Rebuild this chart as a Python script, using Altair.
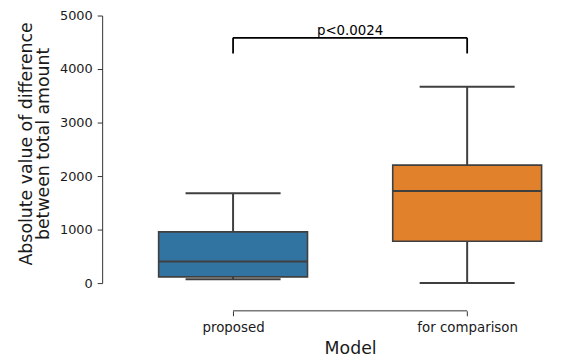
import altair as alt
import pandas as pd

# ---- data ----
models = ["proposed", "for comparison"]
positions = [0, 1]
whisker_low = [74, 0]
q1 = [117, 783]
median = [402, 1722]
q3 = [957, 2204]
whisker_high = [1680, 3667]
colors = ["#3274a1", "#e1812c"]

outlier_model = ["for comparison"]
outlier_pos = [1]
outlier_value = [5300]

bracket_left = [0]
bracket_right = [1]
bracket_top = [4583]
bracket_bottom = [4291]
bracket_label = ["p<0.0024"]

y_ticks = [0, 1000, 2000, 3000, 4000, 5000]

# ---- styling ----
BOX_HALF = 0.318
CAP_HALF = 0.203
EDGE = "#3f3f3f"
X_DOMAIN = [-0.5, 1.35]
W, H = 437, 270

df = pd.DataFrame({
    "model": models, "pos": positions, "wlo": whisker_low, "q1": q1,
    "median": median, "q3": q3, "whi": whisker_high,
})
df["x_lo"] = df["pos"] - BOX_HALF
df["x_hi"] = df["pos"] + BOX_HALF
df["cap_lo"] = df["pos"] - CAP_HALF
df["cap_hi"] = df["pos"] + CAP_HALF

out_df = pd.DataFrame({"model": outlier_model, "pos": outlier_pos, "value": outlier_value})
br_df = pd.DataFrame({"xl": bracket_left, "xr": bracket_right, "yt": bracket_top,
                      "yb": bracket_bottom, "label": bracket_label})
br_df["xm"] = (br_df["xl"] + br_df["xr"]) / 2
axis_df = pd.DataFrame({"a": [positions[0]], "b": [positions[-1]]})

label_expr = "[" + ",".join("'" + m + "'" for m in models) + "][datum.value]"

x_scale = alt.Scale(domain=X_DOMAIN, nice=False, zero=False)
y_scale = alt.Scale(domain=[0, 5000], nice=False, zero=False)

# title centred between the two categories (as in the reference)
mid = (positions[0] + positions[-1]) / 2
title_x = W * (mid - X_DOMAIN[0]) / (X_DOMAIN[1] - X_DOMAIN[0])

X_OFF = 28
x_axis = alt.Axis(
    title="Model", values=positions, labelExpr=label_expr, domain=False,
    offset=X_OFF, tickSize=5, grid=False, labelFontSize=13.5, titleFontSize=17.5,
    labelPadding=5, titlePadding=6, titleFontWeight="normal", titleX=title_x,
)
y_axis = alt.Axis(
    title=["Absolute value of difference", "between total amount"],
    values=y_ticks, format="d", offset=14, tickSize=5, grid=False,
    labelFontSize=13, titleFontSize=17.5, titleLineHeight=17, labelPadding=5,
    titlePadding=7, titleFontWeight="normal", titleY=129,
)

def X(field):
    return alt.X(field, type="quantitative", scale=x_scale, axis=x_axis)

def Y(field):
    return alt.Y(field, type="quantitative", scale=y_scale, axis=y_axis)

base = alt.Chart(df)

whisk_lo = base.mark_rule(color=EDGE, strokeWidth=2).encode(x=X("pos"), y=Y("wlo"), y2="q1")
whisk_hi = base.mark_rule(color=EDGE, strokeWidth=2).encode(x=X("pos"), y=Y("q3"), y2="whi")
cap_lo = base.mark_rule(color=EDGE, strokeWidth=2).encode(x=X("cap_lo"), x2="cap_hi", y=Y("wlo"))
cap_hi = base.mark_rule(color=EDGE, strokeWidth=2).encode(x=X("cap_lo"), x2="cap_hi", y=Y("whi"))
boxes = base.mark_rect(stroke=EDGE, strokeWidth=1.6).encode(
    x=X("x_lo"), x2="x_hi", y=Y("q1"), y2="q3",
    color=alt.Color("model:N", scale=alt.Scale(domain=models, range=colors), legend=None),
)
med = base.mark_rule(color=EDGE, strokeWidth=2).encode(x=X("x_lo"), x2="x_hi", y=Y("median"))

outl = alt.Chart(out_df).mark_point(shape="diamond", filled=True, color=EDGE, size=40, opacity=1).encode(
    x=X("pos"), y=Y("value"))

x_line = alt.Chart(axis_df).mark_rule(color="#333333", strokeWidth=1).encode(
    x=X("a"), x2="b", y=alt.value(H + X_OFF))

br = alt.Chart(br_df)
br_h = br.mark_rule(color="black", strokeWidth=1.8).encode(x=X("xl"), x2="xr", y=Y("yt"))
br_l = br.mark_rule(color="black", strokeWidth=1.8).encode(x=X("xl"), y=Y("yb"), y2="yt")
br_r = br.mark_rule(color="black", strokeWidth=1.8).encode(x=X("xr"), y=Y("yb"), y2="yt")
br_t = br.mark_text(fontSize=13.5, baseline="alphabetic", dy=-2.5, color="black").encode(
    x=X("xm"), y=Y("yt"), text="label:N")

chart = alt.layer(
    whisk_lo, whisk_hi, cap_lo, cap_hi, boxes, med, outl, x_line, br_h, br_l, br_r, br_t
).properties(
    width=W, height=H,
    autosize=alt.AutoSizeParams(type="none"),
    padding={"left": 109, "top": 6, "right": 10, "bottom": 75},
).configure(
    font="DejaVu Sans"
).configure_view(
    stroke=None, strokeWidth=0
).configure_axis(
    domainColor="#333333", tickColor="#333333", labelColor="#1a1a1a", titleColor="#1a1a1a",
    domainWidth=1, tickWidth=1,
)

chart.save("out.html", embed_options={"renderer": "svg", "actions": False})
